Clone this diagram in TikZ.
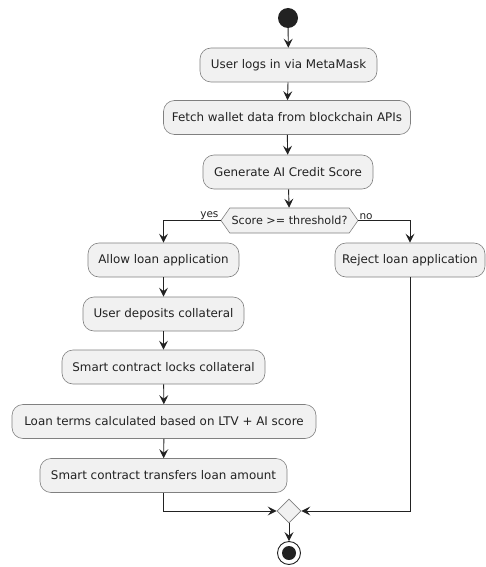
\documentclass[tikz,border=0pt]{standalone}
\usepackage{fontspec}
\setmainfont{DejaVu Sans}
\usetikzlibrary{arrows.meta,shapes.geometric,shapes.symbols}
\definecolor{boxfill}{HTML}{F1F1F1}
\definecolor{ink}{HTML}{222222}
\begin{document}
\begin{tikzpicture}[x=1pt,y=-1pt,
  act/.style={draw=black!50, line width=0.6pt, fill=boxfill, rounded corners=11pt,
    minimum height=34pt, inner xsep=4pt, font=\fontsize{11.9}{13}\selectfont, text=ink},
  flow/.style={draw=ink, line width=0.9pt, -{Stealth[length=9pt,width=9pt,inset=3.5pt]}},
  lbl/.style={font=\fontsize{10.5}{11}\selectfont, text=ink, inner sep=0pt},
  decision/.style={shape=signal, signal to=west and east, signal pointer angle=110,
    draw=black!50, line width=0.6pt, fill=boxfill, minimum height=25pt, inner xsep=1pt,
    font=\fontsize{11.2}{12}\selectfont, text=ink},
  merge/.style={shape=diamond, draw=black!50, line width=0.6pt, fill=boxfill,
    minimum width=24pt, minimum height=24pt, inner sep=0pt}]
\useasboundingbox (0,0) rectangle (485,567);

\node[circle, fill=ink, minimum size=20pt, inner sep=0pt] (start) at (288,18) {};
\node[act, minimum width=177pt] (login) at (288.5,65) {User logs in via MetaMask};
\node[act, minimum width=247pt] (fetch) at (287,117.5) {Fetch wallet data from blockchain APIs};
\node[act, minimum width=170pt] (score) at (288,172) {Generate AI Credit Score};
\node[decision, minimum width=137pt] (dec) at (289.5,220.5) {Score >= threshold?};
\node[act, minimum width=151pt] (allow) at (163.5,260) {Allow loan application};
\node[act, minimum width=150pt] (reject) at (410,260) {Reject loan application};
\node[act, minimum width=161pt] (deposit) at (163.5,314) {User deposits collateral};
\node[act, minimum width=203pt] (lock) at (163.5,367) {Smart contract locks collateral};
\node[act, minimum width=304pt] (terms) at (164,421.5) {Loan terms calculated based on LTV + AI score};
\node[act, minimum width=247pt] (transfer) at (163.5,475.5) {Smart contract transfers loan amount};
\node[merge] (mg) at (289,511) {};
\node[circle, draw=ink, line width=0.9pt, fill=white, minimum size=23pt, inner sep=0pt] (stop) at (289,553) {};
\node[circle, fill=ink, minimum size=14pt, inner sep=0pt] (stopdot) at (stop.center) {};

\draw[flow] (start) -- (login);
\draw[flow] (login) -- (fetch);
\draw[flow] (fetch) -- (score);
\draw[flow] (score) -- (dec);
\draw[flow] (dec.west) -| (allow.north);
\draw[flow] (dec.east) -| (reject.north);
\node[lbl, anchor=south east] (yes) at ([xshift=-2pt,yshift=1pt]dec.west) {yes};
\node[lbl, anchor=south west] (no) at ([xshift=1pt,yshift=1pt]dec.east) {no};
\draw[flow] (allow) -- (deposit);
\draw[flow] (deposit) -- (lock);
\draw[flow] (lock) -- (terms);
\draw[flow] (terms) -- (transfer);
\draw[flow] (transfer.south) |- (mg.west);
\draw[flow] (reject.south) |- (mg.east);
\draw[flow] (mg.south) -- (stop.north);
\end{tikzpicture}
\end{document}
